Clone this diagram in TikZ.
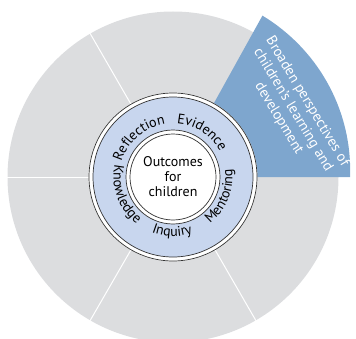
\documentclass[tikz,border=0pt]{standalone}
\usepackage{fontspec}
\setmainfont{PT Sans}
\usetikzlibrary{decorations.text}
\definecolor{sectorgray}{HTML}{DCDDDF}
\definecolor{sectorblue}{HTML}{7EA6CE}
\definecolor{ringblue}{HTML}{C8D6EE}
\definecolor{ringline}{HTML}{333333}
\newcommand{\labelfont}{\fontsize{14}{15}\selectfont}
\newcommand{\bluefont}{\fontsize{14.5}{16.5}\selectfont}
\tikzset{
  divider/.style={white, line width=1pt},
  ringedge/.style={ringline, line width=0.7pt},
  cwlabel/.style={decorate, decoration={text along path, text align=center, text={|\labelfont|#1}}},
}
\begin{document}
\begin{tikzpicture}[x=1pt,y=1pt]
\useasboundingbox (0,0) rectangle (356,338);
\begin{scope}[shift={(173,161)}]
\coordinate (C) at (0,0);
% grey disc and dividers
\fill[sectorgray] (C) circle (165.5);
\foreach \a in {120,180,240,300} \draw[divider] (C) -- (\a:166);
% highlighted sector
\fill[sectorblue] (C) -- plot[domain=0:61, samples=50, smooth] (\x:{177+7.5*\x/61}) -- cycle;
% ring
\fill[white] (C) circle (84.4);
\draw[ringedge] (C) circle (84);
\fill[ringblue] (C) circle (80);
\draw[ringedge] (C) circle (80);
\fill[white] (C) circle (47);
\draw[ringedge] (C) circle (47);
\draw[ringedge] (C) circle (43);
% labels on ring
\path[cwlabel=Reflection] (181:53.5) arc[start angle=181, end angle=81, radius=53.5];
\path[cwlabel=Evidence] (107:53.5) arc[start angle=107, end angle=7, radius=53.5];
\path[cwlabel=Mentoring] (-72:59.5) arc[start angle=-72, end angle=28, radius=59.5];
\path[cwlabel=Inquiry] (-141:59.5) arc[start angle=-141, end angle=-41, radius=59.5];
\path[cwlabel=Knowledge] (150:59.5) arc[start angle=150, end angle=250, radius=59.5];
% centre
\node[align=center, font=\labelfont] (outcomes) at (C) {Outcomes\\for\\children};
\node[align=center, font=\bluefont, text=white, rotate=-59] (broaden) at (120,67) {Broaden perspectives of\\children’s learning and\\development};
\end{scope}
\end{tikzpicture}
\end{document}
